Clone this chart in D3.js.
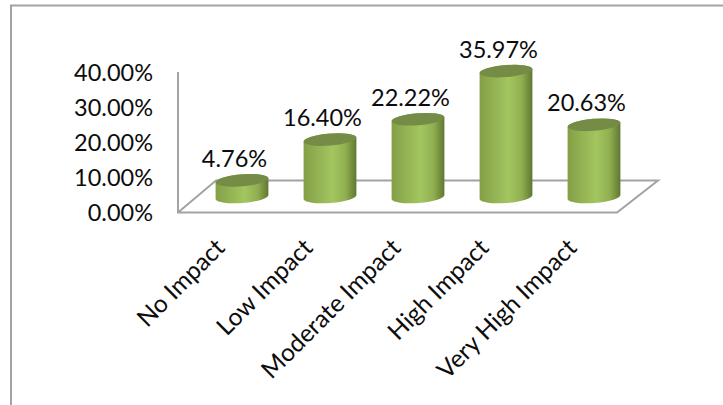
<!DOCTYPE html>
<html><head><meta charset="utf-8">
<script src="https://cdn.jsdelivr.net/npm/d3@7/dist/d3.min.js"></script>
<style>html,body{margin:0;padding:0;background:#fff}svg{display:block}
text{font-family:Lato,"Noto Sans",sans-serif;fill:#0c0c0c}</style></head><body>
<svg id="c" width="723" height="405"></svg>
<script>
const categories = ["No Impact","Low Impact","Moderate Impact","High Impact","Very High Impact"];
const values = [4.76,16.40,22.22,35.97,20.63];
const yTicks = [0,10,20,30,40];

const svg = d3.select("#c");
const gray = "#a3a3a3";
const fs = 23.5;

// chart frame (open on the right and bottom, as in the reference)
svg.append("path").attr("d","M11 405V5.5H723").attr("fill","none").attr("stroke",gray).attr("stroke-width",2);

const axisY = d3.scaleLinear().domain([0,40]).range([212,72]);
const barY  = d3.scaleLinear().domain([0,40]).range([197,57]);
const x = d3.scaleBand().domain(categories).range([198,638]).paddingInner(0.4).paddingOuter(0.2);
const rx = x.bandwidth()/2;

// floor and wall axis
svg.append("path").attr("d","M178 72V212.5H617L658 180.5H216L178 212.5")
  .attr("fill","none").attr("stroke",gray).attr("stroke-width",2);

// y axis labels
const ax = svg.append("g").attr("transform","translate(153,0)")
  .call(d3.axisLeft(axisY).tickValues(yTicks).tickSize(0).tickPadding(0).tickFormat(d=>d3.format(".2f")(d)+"%"));
ax.select(".domain").remove();
ax.selectAll("text").attr("font-size",fs).attr("dy","0.36em").style("font-family",'Lato,"Noto Sans",sans-serif');

// gradient for cylinder sides
const defs = svg.append("defs");
const g = defs.append("linearGradient").attr("id","side");
[[0,"#84a046"],[0.12,"#8ba84c"],[0.55,"#a3c660"],[0.8,"#90ae50"],[1,"#5f7732"]]
  .forEach(([o,c])=>g.append("stop").attr("offset",o).attr("stop-color",c));

const ry = 6, rot = -4.5, tilt = 2.2;
const bars = svg.append("g").selectAll("g").data(values).join("g");
bars.append("path").attr("fill","url(#side)").attr("d",(v,i)=>{
  const L=x(categories[i]), R=L+2*rx, t=barY(v), b=barY(0);
  return `M${L} ${t+tilt}L${L} ${b+tilt}A${rx} ${ry} ${rot} 0 0 ${R} ${b-tilt}L${R} ${t-tilt}A${rx} ${ry} ${rot} 0 0 ${L} ${t+tilt}Z`;
});
bars.append("ellipse").attr("fill","#748c45")
  .attr("cx",(v,i)=>x(categories[i])+rx).attr("cy",v=>barY(v))
  .attr("rx",rx).attr("ry",ry)
  .attr("transform",(v,i)=>`rotate(${rot} ${x(categories[i])+rx} ${barY(v)})`);

// value labels
bars.append("text").attr("font-size",fs).attr("text-anchor","middle")
  .attr("x",(v,i)=>x(categories[i])+rx-7.5).attr("y",v=>barY(v)-22).attr("dy","0.36em")
  .text(v=>v.toFixed(2)+"%");

// category labels
svg.append("g").selectAll("text").data(categories).join("text")
  .attr("font-size",24.5).attr("text-anchor","end")
  .attr("transform",d=>`translate(${x(d)+rx-22},243) rotate(-45)`)
  .attr("dy","0.36em").text(d=>d);
</script></body></html>
